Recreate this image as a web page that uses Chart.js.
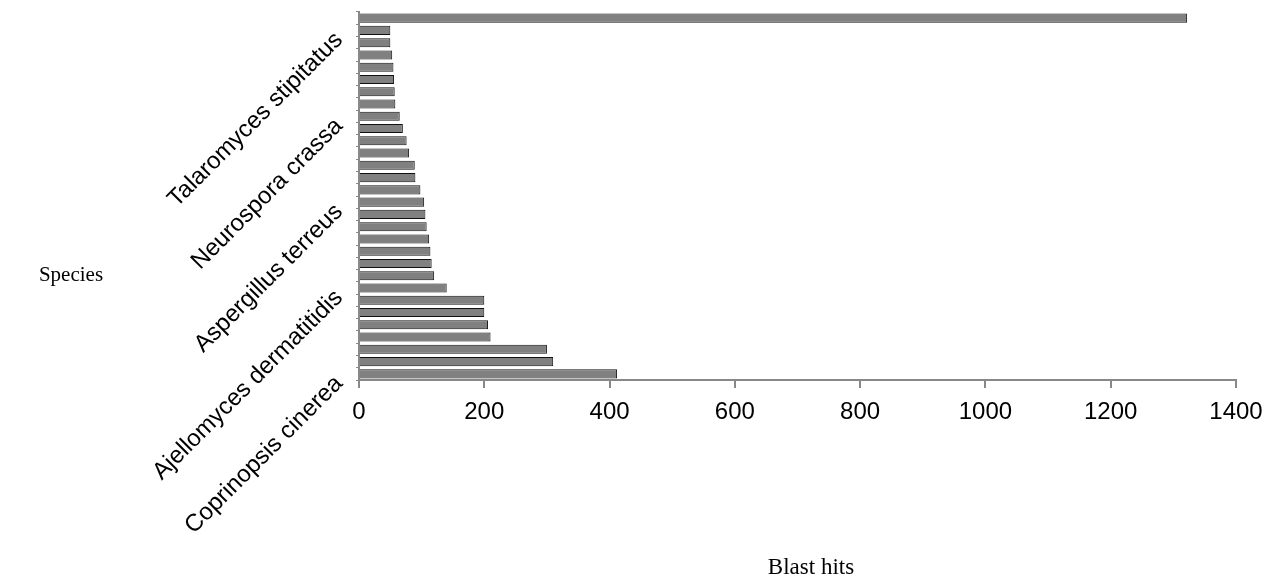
<!DOCTYPE html>
<html>
<head>
<meta charset="utf-8">
<script src="https://cdn.jsdelivr.net/npm/chart.js@4"></script>
<style>
  html, body { margin: 0; padding: 0; background: #fff; }
  #wrap { position: relative; width: 1266px; height: 586px; }
</style>
</head>
<body>
<div id="wrap"><canvas id="c" width="1266" height="586"></canvas></div>
<script>
// Categories, top to bottom (only the labelled species are known from the picture)
const species = [
  '', 'Talaromyces stipitatus', '', '', '', '', '', '',
  'Neurospora crassa', '', '', '', '', '', '',
  'Aspergillus terreus', '', '', '', '', '', '',
  'Ajellomyces dermatitidis', '', '', '', '', '', '',
  'Coprinopsis cinerea'
];
const blastHits = [
  1322, 50, 50, 53, 55, 56, 57, 58, 65, 70,
  76, 80, 89, 90, 98, 104, 106, 108, 112, 114,
  116, 120, 140, 200, 200, 206, 210, 300, 310, 412
];
const xTicks = [0, 200, 400, 600, 800, 1000, 1200, 1400];
const xTitle = 'Blast hits';
const yTitle = 'Species';

const axisTitles = {
  id: 'axisTitles',
  afterDraw(chart) {
    const ctx = chart.ctx;
    ctx.save();
    ctx.fillStyle = '#000';
    ctx.textAlign = 'center';
    ctx.textBaseline = 'middle';
    ctx.font = '21px "Liberation Serif", "Times New Roman", serif';
    ctx.fillText(yTitle, 71, 275);
    ctx.font = '23px "Liberation Serif", "Times New Roman", serif';
    ctx.fillText(xTitle, 811, 568);
    ctx.restore();
  }
};

new Chart(document.getElementById('c'), {
  type: 'bar',
  data: {
    labels: species,
    datasets: [{
      label: xTitle,
      data: blastHits,
      backgroundColor: '#808080',
      borderColor: '#111111',
      borderWidth: 1,
      barPercentage: 0.74,
      categoryPercentage: 1.0
    }]
  },
  options: {
    indexAxis: 'y',
    responsive: false,
    animation: false,
    layout: { padding: { left: 0, right: 30, top: 12, bottom: 0 } },
    plugins: {
      legend: { display: false },
      tooltip: { enabled: false }
    },
    scales: {
      x: {
        min: 0,
        max: 1400,
        afterBuildTicks(scale) { scale.ticks = xTicks.map(v => ({ value: v })); },
        afterFit(scale) { scale.height = 206; scale.paddingLeft = 0; scale.paddingRight = 0; },
        border: { display: true, color: '#888888', width: 2 },
        grid: { display: true, drawOnChartArea: false, drawTicks: true, tickLength: 8, color: '#888888', lineWidth: 2 },
        ticks: {
          color: '#000',
          padding: 10,
          maxRotation: 0,
          callback: (v) => String(v),
          font: { family: '"Liberation Sans", Arial, sans-serif', size: 24 }
        }
      },
      y: {
        afterFit(scale) { scale.width = 359; scale.paddingTop = 0; scale.paddingBottom = 0; },
        border: { display: true, color: '#888888', width: 2 },
        grid: { display: true, drawOnChartArea: false, drawTicks: true, tickLength: 3, color: '#888888', lineWidth: 1, offset: true },
        ticks: {
          autoSkip: false,
          color: '#000',
          padding: 17,
          labelOffset: 6,
          minRotation: 45,
          maxRotation: 45,
          font: { family: '"Liberation Sans", Arial, sans-serif', size: 24 }
        }
      }
    }
  },
  plugins: [axisTitles]
});
</script>
</body>
</html>
